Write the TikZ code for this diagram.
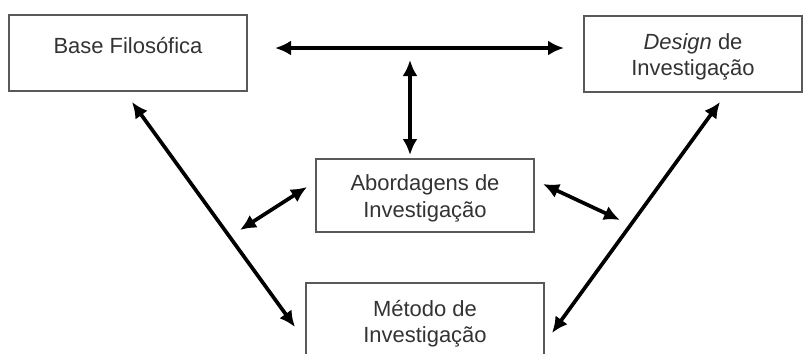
\documentclass[tikz,border=0pt]{standalone}
\usepackage{fontspec}
\setmainfont{Liberation Sans}
\usetikzlibrary{arrows.meta}
\newcommand\topfix{\rule{0pt}{12.5pt}}
\begin{document}
\begin{tikzpicture}[x=0.02cm,y=-0.02cm,>={Latex[length=3.2mm,width=3mm]},
    box/.style={draw=black!65,line width=0.8pt,align=center,text=black!80,
      font=\fontsize{12.5}{15}\selectfont,minimum height=1.52cm,inner sep=0pt},
    twoway/.style={<->,line width=2.1pt}]
    \clip (0,0) rectangle (811,353);
    \node[box,minimum width=4.76cm] (base) at (128,53) {\topfix Base Filosófica\\[-7pt]\strut};
    \node[box,minimum width=4.36cm] (design) at (693,54) {\topfix\textit{Design} de\\Investigação};
    \node[box,minimum width=4.36cm,minimum height=1.46cm] (abord) at (425,195.5) {\topfix Abordagens de\\Investigação};
    \node[box,minimum width=4.76cm] (metodo) at (425,321) {\topfix Método de\\Investigação};
    % arrow ends
    \coordinate (h1) at (275,48);
    \coordinate (h2) at (564,48);
    \coordinate (v1) at (410,60);
    \coordinate (v2) at (410,155);
    \coordinate (l1) at (132,102);
    \coordinate (l2) at (295,327);
    \coordinate (sl1) at (240,230);
    \coordinate (sl2) at (307,187);
    \coordinate (r1) at (720,102);
    \coordinate (r2) at (552,333);
    \coordinate (sr1) at (543,184);
    \coordinate (sr2) at (620,220);
    \draw[twoway] (h1) -- (h2);
    \draw[twoway] (v1) -- (v2);
    \draw[twoway] (l1) -- (l2);
    \draw[twoway] (sl1) -- (sl2);
    \draw[twoway] (r1) -- (r2);
    \draw[twoway] (sr1) -- (sr2);
\end{tikzpicture}
\end{document}
